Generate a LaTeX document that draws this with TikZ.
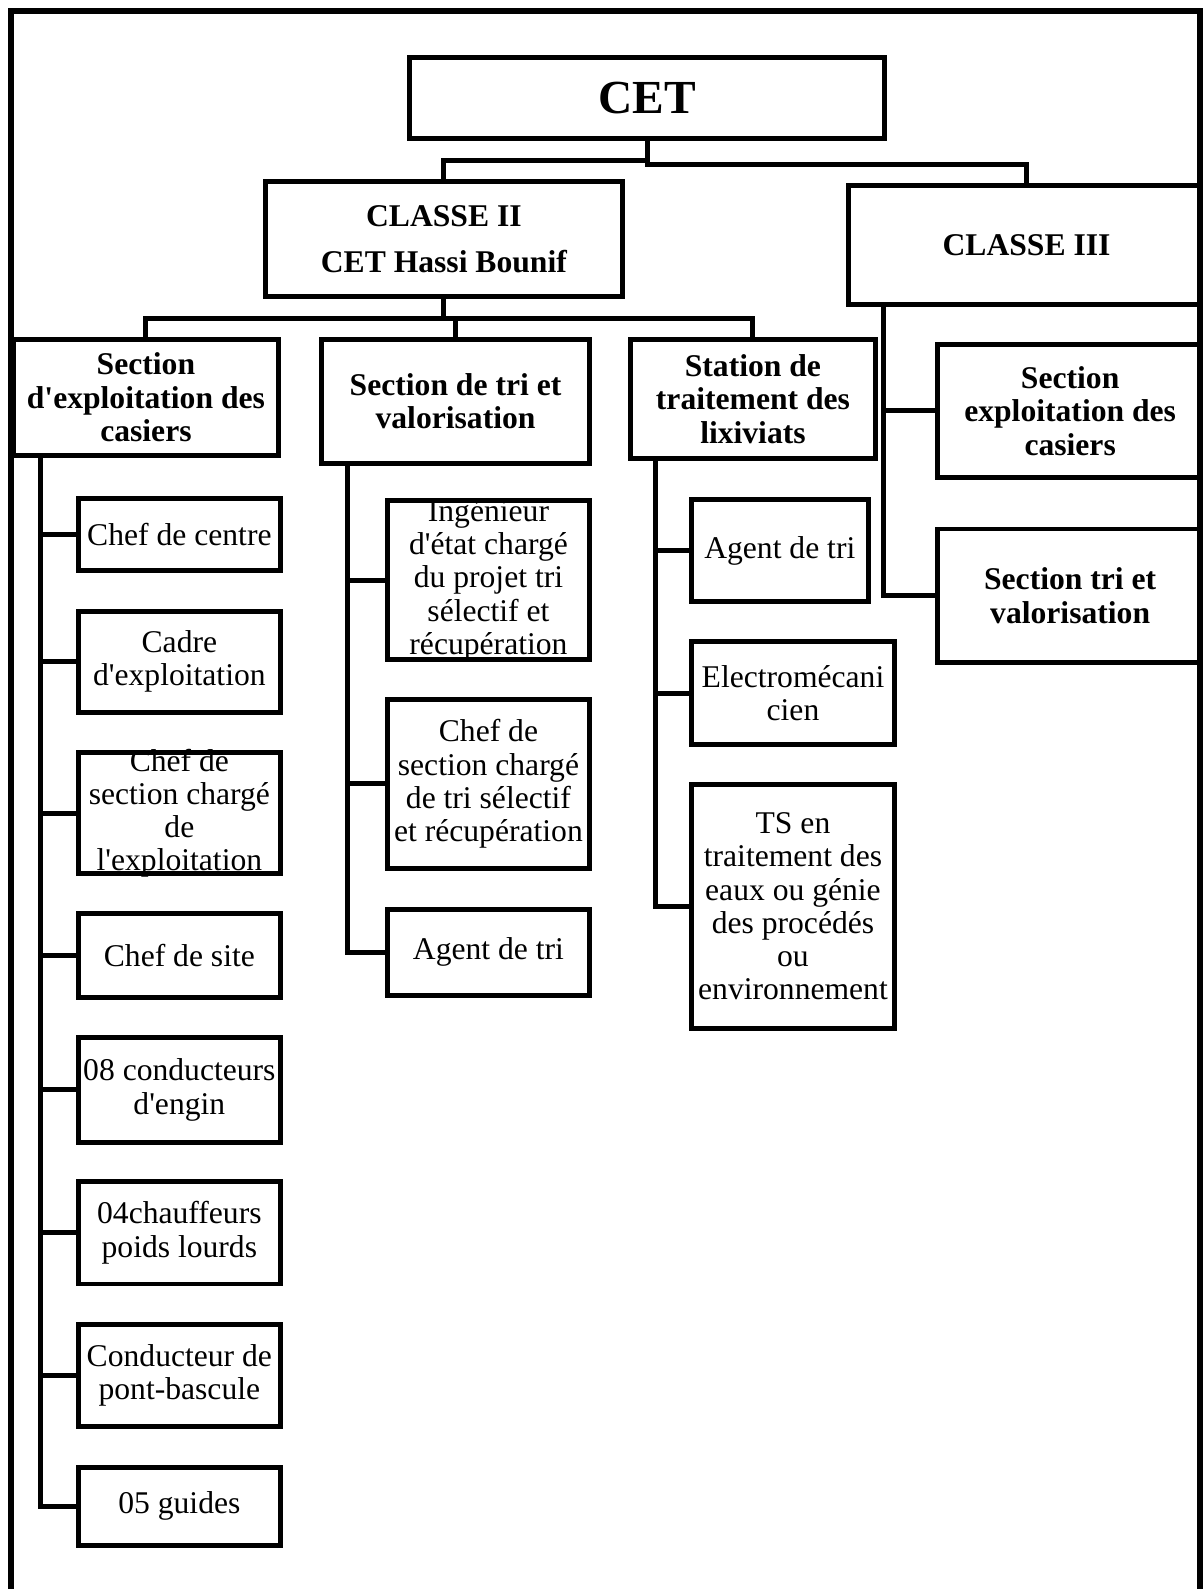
\documentclass[tikz,border=0pt]{standalone}
\usepackage{fontspec}
\setmainfont{Liberation Serif}[Ligatures=TeXOff]
\usetikzlibrary{positioning,calc}
\tikzset{
  outerframe/.style={line width=3.3pt,draw=black},
  link/.style={line width=2.45pt,draw=black},
  box/.style={draw=black,line width=2.45pt,inner xsep=0pt,inner ysep=-10pt,outer sep=0pt,
    align=center,font=\fontsize{15.6}{16.4}\selectfont},
  headbox/.style={box,font=\fontsize{15.6}{16.5}\selectfont\bfseries},
  classbox/.style={box,font=\fontsize{15.6}{22.5}\selectfont\bfseries},
  topbox/.style={box,font=\fontsize{23.4}{26}\selectfont\bfseries}
}

\begin{document}
\begin{tikzpicture}[x=0.5pt,y=-0.5pt]
  \useasboundingbox (0,0) rectangle (1187,1568);
  \draw[outerframe] (11,1600) -- (11,11) -- (1184.5,11) -- (1184.5,1600);

  % top levels
  \node[topbox,minimum width=234.5pt,minimum height=40pt] (cet) at (638.5,97) {CET};
  \node[classbox,minimum width=176pt,minimum height=57pt] (classe2) at (438,236) {CLASSE II\\CET Hassi Bounif};
  \node[classbox,minimum width=176pt,minimum height=58.5pt] (classe3) at (1013,241.5) {CLASSE III};

  % sections of CLASSE II
  \node[headbox,anchor=north west,minimum width=131pt,minimum height=57pt] (secexp) at (13,335) {Section\\d'exploitation des\\casiers};
  \node[headbox,right=21pt of secexp.north east,anchor=north west,minimum width=132.5pt,minimum height=61pt] (sectri) {Section de tri et\\valorisation};
  \node[headbox,right=20pt of sectri.north east,anchor=north west,minimum width=121pt,minimum height=58.5pt] (station) {Station de\\traitement des\\lixiviats};

  % sections of CLASSE III
  \node[headbox,minimum width=131pt,minimum height=65.5pt] (expcasiers) at (1056,405.5) {Section\\exploitation des\\casiers};
  \node[headbox,below=25.5pt of expcasiers,minimum width=131pt,minimum height=66pt] (trival) {Section tri et\\valorisation};

  % staff of the exploitation section
  \node[box,minimum width=100pt,minimum height=35.5pt] (chefcentre) at (177,527.5) {Chef de centre};
  \node[box,below=20pt of chefcentre,minimum width=100pt,minimum height=50pt] (cadre) {Cadre\\d'exploitation};
  \node[box,below=20pt of cadre,minimum width=100pt,minimum height=59.5pt] (chefsecexp) {Chef de\\section chargé\\de\\l'exploitation};
  \node[box,below=19.5pt of chefsecexp,minimum width=100pt,minimum height=41.5pt] (chefsite) {Chef de site};
  \node[box,below=20pt of chefsite,minimum width=100pt,minimum height=51.5pt] (conducteurs) {08 conducteurs\\d'engin};
  \node[box,below=19.5pt of conducteurs,minimum width=100pt,minimum height=50.5pt] (chauffeurs) {04chauffeurs\\poids lourds};
  \node[box,below=20pt of chauffeurs,minimum width=100pt,minimum height=50.5pt] (pontbascule) {Conducteur de\\pont-bascule};
  \node[box,below=20pt of pontbascule,minimum width=100pt,minimum height=38.5pt] (guides) {05 guides};

  % staff of the sorting section
  \node[box,minimum width=100pt,minimum height=78.5pt] (ingenieur) at (482,572.5) {Ingénieur\\d'état chargé\\du projet tri\\sélectif et\\récupération};
  \node[box,below=19.5pt of ingenieur,minimum width=100pt,minimum height=83.5pt] (chefsectri) {Chef de\\section chargé\\de tri sélectif\\et récupération};
  \node[box,below=20pt of chefsectri,minimum width=100pt,minimum height=42.5pt] (agenttri) {Agent de tri};

  % staff of the leachate station
  \node[box,minimum width=87.5pt,minimum height=50.5pt] (agentst) at (769.5,543.5) {Agent de tri};
  \node[box,below=19.5pt of agentst.south west,anchor=north west,minimum width=100.5pt,minimum height=51pt] (electro) {Electromécani\\cien};
  \node[box,below=19.5pt of electro,minimum width=100.5pt,minimum height=120.5pt] (techsup) {TS en\\traitement des\\eaux ou génie\\des procédés\\ou\\environnement};

  % links
  \draw[link] (cet.south) -- ++(0,21) -| (classe2.north);
  \draw[link] (cet.south) -- ++(0,25) -| (classe3.north);
  \draw[link] (classe2.south) -- ++(0,21) coordinate (midbus);
  \draw[link] (secexp.north) |- (midbus) -| (station.north);
  \draw[link] (sectri.north) -- (sectri.north |- midbus);

  \coordinate (trunkexp) at ($(secexp.south west)+(27,0)$);
  \coordinate (trunktri) at ($(sectri.south west)+(26,0)$);
  \coordinate (trunkst) at ($(station.south west)+(25,0)$);
  \coordinate (trunkc3) at ($(classe3.south west)+(35,0)$);

  \draw[link] (trunkexp) |- (guides.west);
  \foreach \n in {chefcentre,cadre,chefsecexp,chefsite,conducteurs,chauffeurs,pontbascule}
    \draw[link] (\n.west) -- (\n.west -| trunkexp);
  \draw[link] (trunktri) |- (agenttri.west);
  \foreach \n in {ingenieur,chefsectri}
    \draw[link] (\n.west) -- (\n.west -| trunktri);
  \draw[link] (trunkst) |- (techsup.west);
  \foreach \n in {agentst,electro}
    \draw[link] (\n.west) -- (\n.west -| trunkst);
  \draw[link] (trunkc3) |- (trival.west);
  \draw[link] (expcasiers.west) -- (expcasiers.west -| trunkc3);
\end{tikzpicture}
\end{document}
